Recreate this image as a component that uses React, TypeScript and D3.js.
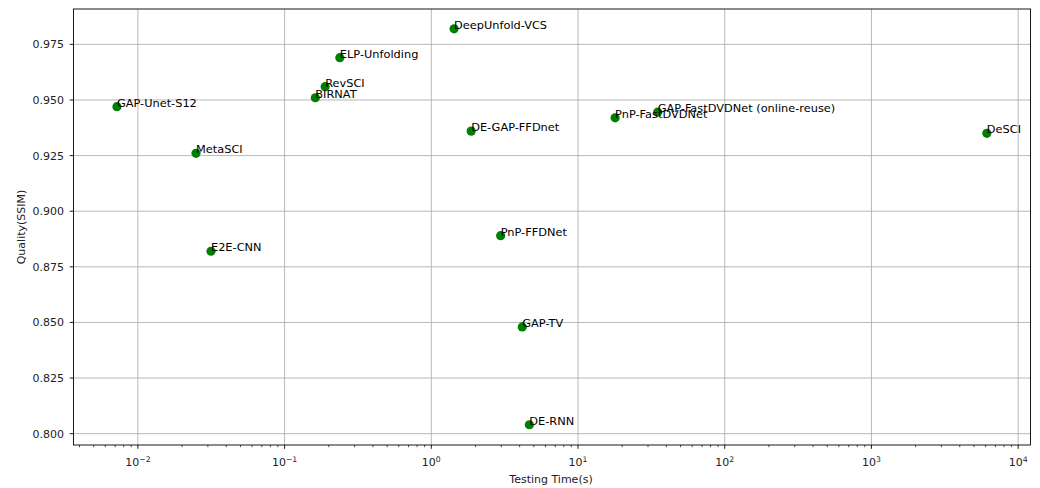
import React from "react";
import * as d3 from "d3";

const methods = [
  "GAP-Unet-S12", "MetaSCI", "E2E-CNN", "BIRNAT", "RevSCI", "ELP-Unfolding",
  "DeepUnfold-VCS", "DE-GAP-FFDnet", "PnP-FFDNet", "PnP-FastDVDNet",
  "GAP-FastDVDNet (online-reuse)", "DeSCI", "GAP-TV", "DE-RNN",
];
const times = [0.0072, 0.0249, 0.0315, 0.162, 0.189, 0.238, 1.43, 1.87, 2.97, 17.9, 34.9, 6120, 4.17, 4.66];
const ssim = [0.947, 0.926, 0.882, 0.951, 0.956, 0.969, 0.982, 0.936, 0.889, 0.942, 0.9445, 0.935, 0.848, 0.804];

const yTicks = [0.8, 0.825, 0.85, 0.875, 0.9, 0.925, 0.95, 0.975];
const xExponents = [-2, -1, 0, 1, 2, 3, 4];

const W = 1040, H = 488;
const L = 73.5, R = 1030.5, T = 9, B = 445;
const FONT = "DejaVu Sans, sans-serif";
const FS = 11;
const LFS = 11.35;

export default function App() {
  const x = d3.scaleLog().domain([0.00364, 12140]).range([L, R]);
  const y = d3.scaleLinear().domain([0.7949, 0.9909]).range([B, T]);

  const minor: number[] = [];
  for (let e = -3; e <= 4; e++) {
    for (let m = 2; m <= 9; m++) {
      const v = m * Math.pow(10, e);
      if (v >= x.domain()[0] && v <= x.domain()[1]) minor.push(v);
    }
  }

  return (
    <svg width={W} height={H} style={{ position: "absolute", left: 0, top: 0, background: "#fff" }} fontFamily={FONT}>
      <rect x={0} y={0} width={W} height={H} fill="#fff" />
      {/* grid */}
      {xExponents.map((e) => (
        <line key={"gx" + e} x1={x(Math.pow(10, e))} x2={x(Math.pow(10, e))} y1={T} y2={B} stroke="#b0b0b0" strokeWidth={0.9} />
      ))}
      {yTicks.map((t) => (
        <line key={"gy" + t} x1={L} x2={R} y1={y(t)} y2={y(t)} stroke="#b0b0b0" strokeWidth={0.9} />
      ))}
      {/* points */}
      {methods.map((m, i) => (
        <circle key={"p" + m} cx={x(times[i])} cy={y(ssim[i])} r={4.6} fill="#008000" />
      ))}
      {/* labels */}
      {methods.map((m, i) => (
        <text key={"t" + m} x={x(times[i])} y={y(ssim[i])} fontSize={LFS} fill="#000">{m}</text>
      ))}
      {/* spines */}
      <rect x={L} y={T} width={R - L} height={B - T} fill="none" stroke="#000" strokeWidth={0.9} />
      {/* x ticks */}
      {xExponents.map((e) => {
        const px = x(Math.pow(10, e));
        const lab = e < 0 ? "\u2212" + Math.abs(e) : String(e);
        return (
          <g key={"xt" + e}>
            <line x1={px} x2={px} y1={B} y2={B + 3.8} stroke="#000" strokeWidth={0.9} />
            <text x={px} y={B + 21} fontSize={FS} textAnchor="middle" fill="#222">
              10<tspan fontSize={7.7} dy={-4.5}>{lab}</tspan>
            </text>
          </g>
        );
      })}
      {minor.map((v) => (
        <line key={"mx" + v} x1={x(v)} x2={x(v)} y1={B} y2={B + 2.2} stroke="#000" strokeWidth={0.7} />
      ))}
      {/* y ticks */}
      {yTicks.map((t) => (
        <g key={"yt" + t}>
          <line x1={L - 3.8} x2={L} y1={y(t)} y2={y(t)} stroke="#000" strokeWidth={0.9} />
          <text x={L - 9.5} y={y(t)} dy="0.36em" fontSize={FS} textAnchor="end" fill="#222">{d3.format(".3f")(t)}</text>
        </g>
      ))}
      {/* axis labels */}
      <text x={551} y={482.5} fontSize={FS} textAnchor="middle" fill="#222">Testing Time(s)</text>
      <text transform={`translate(24.5,${(T + B) / 2}) rotate(-90)`} fontSize={FS} textAnchor="middle" fill="#222">Quality(SSIM)</text>
    </svg>
  );
}
